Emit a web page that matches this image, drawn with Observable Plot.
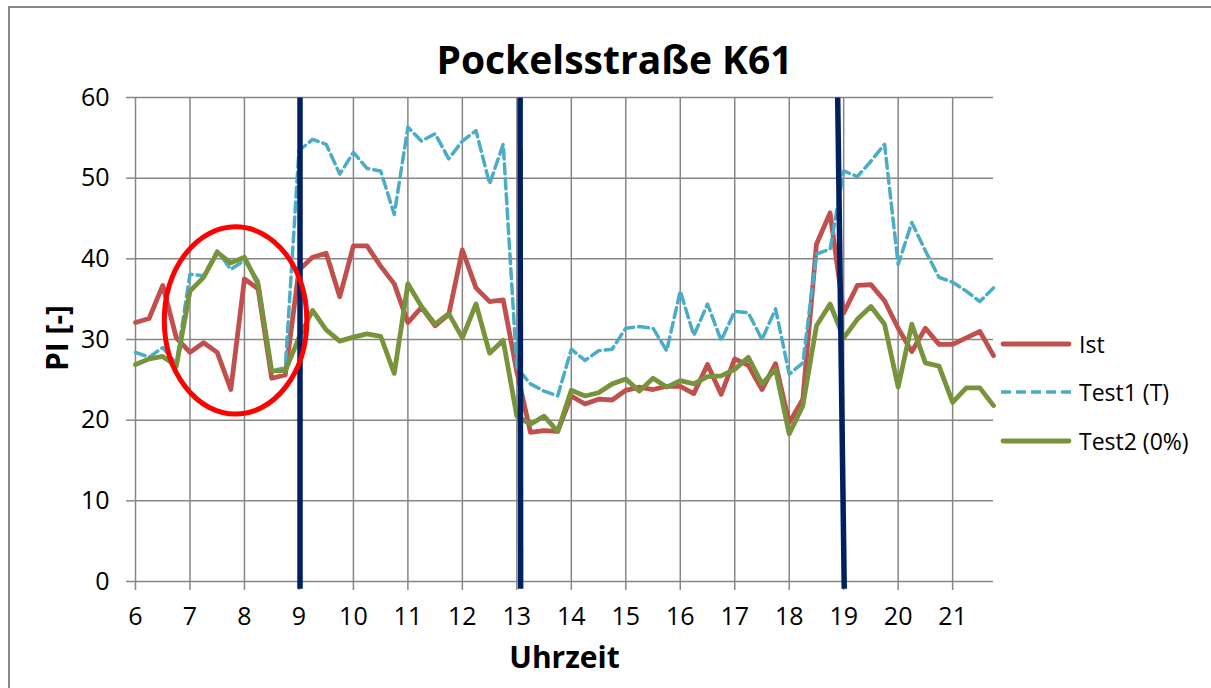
<!DOCTYPE html>
<html>
<head>
<meta charset="utf-8">
<script src="https://cdn.jsdelivr.net/npm/d3@7"></script>
<script src="https://cdn.jsdelivr.net/npm/@observablehq/plot@0.6"></script>
<style>
  html, body { margin: 0; padding: 0; background: #fff; overflow: hidden; }
  #wrap { position: relative; width: 1211px; height: 688px; overflow: hidden; font-family: 'Open Sans', sans-serif; }
  #frame { position: absolute; left: 8px; top: 6px; width: 1400px; height: 900px; border-left: 2px solid #888; border-top: 2px solid #888; box-sizing: border-box; }
  #chart { position: absolute; left: 0; top: 0; }
  #ylab { position: absolute; left: 57px; top: 338px; transform: translate(-50%, -50%) rotate(-90deg); font-size: 30px; font-weight: 700; line-height: 1; white-space: nowrap; color: #000; }
  .leg { position: absolute; left: 1000px; height: 30px; display: flex; align-items: center; font-size: 23px; color: #000; white-space: nowrap; }
  .leg svg { margin-right: 7px; }
</style>
</head>
<body>
<div id="wrap">
  <div id="frame"></div>
  <div id="chart"></div>
  <div id="ylab"></div>
  <div id="legend"></div>
</div>
<script>
// Time of day (hours), 15-minute steps
const times = [6.00, 6.25, 6.50, 6.75, 7.00, 7.25, 7.50, 7.75, 8.00, 8.25, 8.50, 8.75,
  9.00, 9.25, 9.50, 9.75, 10.00, 10.25, 10.50, 10.75, 11.00, 11.25, 11.50, 11.75,
  12.00, 12.25, 12.50, 12.75, 13.00, 13.25, 13.50, 13.75, 14.00, 14.25, 14.50, 14.75,
  15.00, 15.25, 15.50, 15.75, 16.00, 16.25, 16.50, 16.75, 17.00, 17.25, 17.50, 17.75,
  18.00, 18.25, 18.50, 18.75, 19.00, 19.25, 19.50, 19.75, 20.00, 20.25, 20.50, 20.75,
  21.00, 21.25, 21.50, 21.75];

const ist = [32.1, 32.6, 36.7, 30.2, 28.4, 29.6, 28.4, 23.8, 37.5, 36.3, 25.2, 25.6,
  38.6, 40.2, 40.7, 35.3, 41.6, 41.6, 39.1, 36.9, 32.1, 34.0, 31.7, 33.1,
  41.1, 36.4, 34.7, 34.9, 26.0, 18.5, 18.7, 18.6, 23.0, 22.0, 22.6, 22.5,
  23.7, 24.1, 23.8, 24.2, 24.2, 23.3, 26.9, 23.2, 27.6, 26.8, 23.8, 27.0,
  19.7, 22.6, 41.8, 45.7, 33.3, 36.7, 36.8, 34.8, 31.4, 28.5, 31.4, 29.4,
  29.4, 30.2, 31.0, 28.0];

const test1 = [28.4, 27.8, 29.0, 27.0, 38.1, 37.9, 41.0, 38.7, 39.8, 37.3, 26.1, 26.5,
  53.4, 54.8, 54.2, 50.5, 53.2, 51.2, 50.9, 45.5, 56.3, 54.6, 55.5, 52.4,
  54.6, 55.9, 49.3, 54.2, 26.5, 24.5, 23.6, 23.0, 28.8, 27.4, 28.6, 28.8,
  31.4, 31.6, 31.4, 28.6, 36.0, 30.5, 34.4, 29.9, 33.5, 33.3, 30.0, 33.8,
  25.7, 27.1, 40.6, 41.2, 50.9, 50.2, 52.1, 54.2, 39.3, 44.5, 41.0, 37.7,
  37.1, 36.0, 34.7, 36.4];

const test2 = [26.9, 27.6, 27.9, 26.7, 36.0, 37.7, 40.8, 39.5, 40.2, 36.9, 26.1, 26.1,
  30.2, 33.6, 31.2, 29.8, 30.3, 30.7, 30.4, 25.8, 36.9, 34.1, 31.9, 33.2,
  30.2, 34.4, 28.3, 29.9, 20.5, 19.5, 20.5, 18.6, 23.7, 23.0, 23.4, 24.5,
  25.1, 23.6, 25.2, 24.1, 24.9, 24.5, 25.4, 25.5, 26.3, 27.8, 24.5, 26.3,
  18.3, 21.8, 31.7, 34.4, 30.2, 32.5, 34.1, 31.9, 24.1, 31.9, 27.1, 26.7,
  22.2, 24.0, 24.0, 21.8];

const xTicks = [6, 7, 8, 9, 10, 11, 12, 13, 14, 15, 16, 17, 18, 19, 20, 21];
const yTicks = [0, 10, 20, 30, 40, 50, 60];

const seriesNames = ["Ist", "Test1 (T)", "Test2 (0%)"];
const seriesColors = ["#C0504D", "#4BACC6", "#77933C"];

// Hand-drawn navy marker lines (time at top / bottom)
const markerTopTime = [9.02, 13.06, 18.89];
const markerBottomTime = [9.02, 13.07, 19.01];

// Red ellipse annotation (center time / PI, half-width in hours / PI)
const ellipseCenterTime = 7.846;
const ellipseCenterPI = 32.3;
const ellipseHalfHours = 1.308;
const ellipseHalfPI = 11.6;

const titleText = "Pockelsstraße K61";
const yLabel = "PI [-]";
const xLabel = "Uhrzeit";

const rows = times.map((t, i) => ({t, ist: ist[i], test1: test1[i], test2: test2[i]}));
const markers = markerTopTime.map((t, i) => ({top: t, bottom: markerBottomTime[i]}));

const grey = "#868686";

function ellipseMark(index, scales) {
  const ns = "http://www.w3.org/2000/svg";
  const g = document.createElementNS(ns, "g");
  const e = document.createElementNS(ns, "ellipse");
  const cx = scales.x(ellipseCenterTime), cy = scales.y(ellipseCenterPI);
  e.setAttribute("cx", cx);
  e.setAttribute("cy", cy);
  e.setAttribute("rx", Math.abs(scales.x(ellipseCenterTime + ellipseHalfHours) - cx));
  e.setAttribute("ry", Math.abs(scales.y(ellipseCenterPI + ellipseHalfPI) - cy));
  e.setAttribute("fill", "none");
  e.setAttribute("stroke", "#FF0000");
  e.setAttribute("stroke-width", 5);
  g.appendChild(e);
  return g;
}

const chart = Plot.plot({
  width: 1211,
  height: 688,
  marginLeft: 135,
  marginRight: 218,
  marginTop: 97,
  marginBottom: 107,
  style: {fontFamily: "'Open Sans', sans-serif", fontSize: "25px", color: "#000", background: "transparent", overflow: "visible"},
  x: {domain: [6, 21.75]},
  y: {domain: [0, 60]},
  marks: [
    Plot.gridY(yTicks, {stroke: grey, strokeOpacity: 1, strokeWidth: 1.5}),
    Plot.gridX(xTicks, {stroke: grey, strokeOpacity: 1, strokeWidth: 1.5}),
    Plot.axisY(yTicks, {tickSize: 9, tickPadding: 17, stroke: grey, strokeWidth: 1.5, label: null, fontSize: 25}),
    Plot.axisX(xTicks, {tickSize: 9, tickPadding: 17, stroke: grey, strokeWidth: 1.5, label: null, fontSize: 25}),
    Plot.line(rows, {x: "t", y: "ist", stroke: seriesColors[0], strokeWidth: 4.8, strokeLinejoin: "round", strokeLinecap: "round"}),
    Plot.line(rows, {x: "t", y: "test1", stroke: seriesColors[1], strokeWidth: 3.5, strokeDasharray: "10,5", strokeLinejoin: "round"}),
    Plot.line(rows, {x: "t", y: "test2", stroke: seriesColors[2], strokeWidth: 4.8, strokeLinejoin: "round", strokeLinecap: "round"}),
    Plot.link(markers, {x1: "top", x2: "bottom", y1: yTicks[yTicks.length - 1], y2: -0.9, stroke: "#002060", strokeWidth: 5.5}),
    ellipseMark,
    Plot.text([titleText], {frameAnchor: "top", dx: 50, dy: -51, fontSize: 39, fontWeight: "bold"}),
    Plot.text([xLabel], {frameAnchor: "bottom", dy: 86, fontSize: 30, fontWeight: "bold"})
  ]
});
document.getElementById("chart").appendChild(chart);
document.getElementById("ylab").textContent = yLabel;

// Legend
const legendY = [344, 392, 441];
const legend = document.getElementById("legend");
seriesNames.forEach((name, i) => {
  const d = document.createElement("div");
  d.className = "leg";
  d.style.top = (legendY[i] - 15) + "px";
  const dash = i === 1 ? 'stroke-dasharray="10,5"' : 'stroke-linecap="round"';
  const sw = i === 1 ? 3.5 : 4.8;
  d.innerHTML = `<svg width="72" height="10"><line x1="${i === 1 ? 1 : 3}" x2="${i === 1 ? 71 : 69}" y1="5" y2="5" stroke="${seriesColors[i]}" stroke-width="${sw}" ${dash}/></svg><span>${name}</span>`;
  legend.appendChild(d);
});
</script>
</body>
</html>
